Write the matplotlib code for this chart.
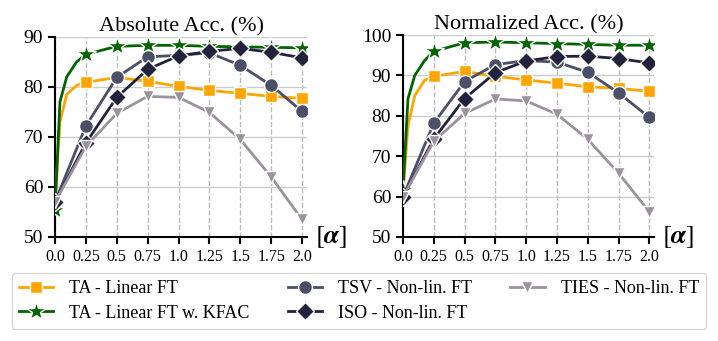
import matplotlib
matplotlib.use("Agg")
import matplotlib.pyplot as plt
import numpy as np

plt.rcParams['font.family'] = ['Liberation Serif', 'DejaVu Serif']
plt.rcParams['mathtext.fontset'] = 'stix'

# merging coefficient alpha (markers)
alpha = [0.0, 0.25, 0.5, 0.75, 1.0, 1.25, 1.5, 1.75, 2.0]
alpha_ticks = ['0.0', '0.25', '0.5', '0.75', '1.0', '1.25', '1.5', '1.75', '2.0']

# absolute accuracy (%)
abs_ta = [57.0, 80.9, 81.9, 81.1, 80.1, 79.3, 78.7, 78.1, 77.7]
abs_kfac = [55.3, 86.5, 88.1, 88.3, 88.3, 88.1, 88.0, 87.9, 87.8]
abs_tsv = [57.0, 72.2, 81.9, 86.0, 86.3, 86.8, 84.3, 80.3, 75.1]
abs_iso = [57.0, 68.8, 77.9, 83.5, 86.2, 87.1, 87.7, 86.9, 85.8]
abs_ties = [57.0, 68.1, 74.7, 78.1, 77.9, 74.9, 69.5, 62.0, 53.5]

# normalized accuracy (%)
norm_ta = [61.0, 89.8, 91.0, 89.8, 88.9, 88.1, 87.2, 86.8, 86.1]
norm_kfac = [61.7, 96.0, 98.1, 98.3, 98.1, 97.9, 97.7, 97.5, 97.5]
norm_tsv = [60.0, 78.2, 88.5, 92.7, 93.7, 93.3, 90.8, 85.7, 79.6]
norm_iso = [60.0, 74.3, 84.3, 90.7, 93.6, 94.7, 94.8, 94.2, 93.1]
norm_ties = [60.0, 73.7, 80.6, 84.2, 83.7, 80.4, 74.2, 65.8, 56.2]

# extra values read off the steep start (no markers there)
early_alpha = [0.04, 0.095, 0.175]
abs_ta_early = [73.0, 78.5, 80.3]
abs_kfac_early = [77.0, 82.0, 85.0]
norm_ta_early = [77.5, 85.0, 88.8]
norm_kfac_early = [84.2, 90.0, 93.7]

labels = ['TA - Linear FT', 'TA - Linear FT w. KFAC', 'TSV - Non-lin. FT',
          'ISO - Non-lin. FT', 'TIES - Non-lin. FT']
colors = ['#FFA500', '#006400', '#4B5068', '#22223D', '#9C929E']
markers = ['s', '*', 'o', 'D', 'v']
msizes = [9, 15, 10, 9, 9]


def with_early(vals, early):
    x = [alpha[0]] + early_alpha + alpha[1:]
    y = [vals[0]] + early + vals[1:]
    marks = [0] + list(range(len(early_alpha) + 1, len(x)))
    return x, y, marks


fig = plt.figure(figsize=(7.18, 3.41), dpi=100)
ax1 = fig.add_axes([0.0766, 0.305, 0.351, 0.587])
ax2 = fig.add_axes([0.5613, 0.305, 0.350, 0.592])

panels = [
    (ax1, [abs_ta, abs_kfac, abs_tsv, abs_iso, abs_ties],
     [abs_ta_early, abs_kfac_early], 'Absolute Acc. (%)', (50, 90)),
    (ax2, [norm_ta, norm_kfac, norm_tsv, norm_iso, norm_ties],
     [norm_ta_early, norm_kfac_early], 'Normalized Acc. (%)', (50, 100)),
]

handles = []
for ax, series, early, title, ylim in panels:
    order = [4, 2, 3, 0, 1]  # draw TIES first, KFAC on top
    for i in order:
        if i < 2:
            x, y, marks = with_early(series[i], early[i])
        else:
            x, y, marks = alpha, series[i], list(range(len(alpha)))
        h, = ax.plot(x, y, color=colors[i], lw=2, marker=markers[i],
                     ms=msizes[i], markevery=marks, mec='white', mew=1,
                     label=labels[i], zorder=3 + i)
        if ax is ax1:
            handles.append((i, h))
    ax.set_xlim(0, 2.04)
    ax.set_ylim(*ylim)
    ax.set_xticks(alpha)
    ax.set_xticklabels(alpha_ticks)
    ax.set_yticks(np.arange(ylim[0], ylim[1] + 1, 10))
    ax.grid(axis='y', color='#cccccc', lw=1, ls='-')
    ax.grid(axis='x', color='#bbbbbb', lw=1, ls='--')
    ax.set_axisbelow(True)
    for s in ['top', 'right']:
        ax.spines[s].set_visible(False)
    for s in ['left', 'bottom']:
        ax.spines[s].set_linewidth(1.5)
    ax.tick_params(axis='both', width=1.5, length=5)
    ax.tick_params(axis='x', labelsize=11.5)
    ax.tick_params(axis='y', labelsize=14)
    ax.set_title(title, fontsize=16, pad=4)
    ax.text(1.03, 0.0, r'$[\mathbfit{\alpha}]$', transform=ax.transAxes,
            fontsize=19, va='center', ha='left')

handles = [h for _, h in sorted(handles)]
fig.legend(handles, labels, loc='center', ncol=3,
           bbox_to_anchor=(0.5, 1 - 301 / 341), fontsize=13,
           frameon=True, edgecolor='#cccccc', fancybox=True,
           columnspacing=2.1, handlelength=1.9, handletextpad=0.9,
           labelspacing=0.4, borderpad=0.4)

fig.savefig('out.png', dpi=100)
